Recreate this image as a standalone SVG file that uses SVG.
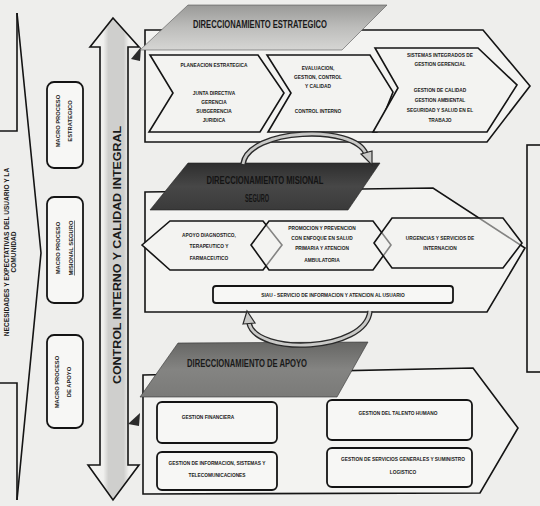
<svg xmlns="http://www.w3.org/2000/svg" width="540" height="506" viewBox="0 0 540 506">
<defs>
<style>
.ln{fill:none;stroke:#141414;stroke-width:1.6;stroke-linejoin:miter}
.fr{fill:#f3f3f1;stroke:#141414;stroke-width:1.6;stroke-linejoin:miter}
.bx{fill:#f7f7f5;stroke:#141414;stroke-width:1.8}
.t{font-family:"Liberation Sans",Arial,sans-serif;font-weight:bold;font-size:4.8px;fill:#1a1a1a;text-anchor:middle}
.h{font-family:"Liberation Sans",Arial,sans-serif;font-weight:bold;font-size:10px;fill:#1a1a1a;text-anchor:middle}
.v{font-family:"Liberation Sans",Arial,sans-serif;font-weight:bold;text-anchor:middle;fill:#1a1a1a}
.arcO{fill:none;stroke:#2a2a2a;stroke-width:5.5;stroke-linecap:butt}
.arcI{fill:none;stroke:#c9c9c7;stroke-width:2.8;stroke-linecap:butt}
</style>
<linearGradient id="g1" x1="0" y1="0" x2="0" y2="1">
<stop offset="0" stop-color="#9a9a98"/><stop offset="0.5" stop-color="#bdbdbb"/><stop offset="1" stop-color="#d6d6d4"/>
</linearGradient>
<linearGradient id="g2" x1="0" y1="0" x2="0" y2="1">
<stop offset="0" stop-color="#2e2e2e"/><stop offset="0.5" stop-color="#474747"/><stop offset="1" stop-color="#3a3a3a"/>
</linearGradient>
<linearGradient id="g3" x1="0" y1="0" x2="0" y2="1">
<stop offset="0" stop-color="#666664"/><stop offset="0.5" stop-color="#848482"/><stop offset="1" stop-color="#7a7a78"/>
</linearGradient>
<linearGradient id="gs" x1="0" y1="0" x2="1" y2="0">
<stop offset="0" stop-color="#f4f4f2"/><stop offset="0.3" stop-color="#f0f0ee"/><stop offset="0.4" stop-color="#cfcfcd"/><stop offset="0.7" stop-color="#cfcfcd"/><stop offset="0.8" stop-color="#f0f0ee"/><stop offset="1" stop-color="#f4f4f2"/>
</linearGradient>
</defs>
<rect x="0" y="0" width="540" height="506" fill="#eeeeec"/>

<g id="necesidades">
<polyline class="ln" points="17,13 41,253 17,500"/>
<polyline class="ln" points="17,13 17,131 0,131"/>
<polyline class="ln" points="0,383 17,383 17,500"/>
<text class="v" font-size="6.6" transform="translate(8.5,252) rotate(-90)">NECESIDADES Y EXPECTATIVAS DEL USUARIO Y LA</text>
<text class="v" font-size="6.6" transform="translate(16,252) rotate(-90)">COMUNIDAD</text>
</g>

<g id="macro-estrategico">
<rect class="bx" x="47" y="82" width="36" height="86" rx="7"/>
<text class="v" font-size="5.8" transform="translate(60.2,121) rotate(-90)">MACRO PROCESO</text>
<text class="v" font-size="5.8" transform="translate(72.2,121) rotate(-90)">ESTRATEGICO</text>
</g>
<g id="macro-misional">
<rect class="bx" x="47" y="197" width="36" height="106" rx="7"/>
<text class="v" font-size="5.8" transform="translate(60.2,248) rotate(-90)">MACRO PROCESO</text>
<text class="v" font-size="5.8" text-decoration="underline" transform="translate(73.2,248) rotate(-90)">MISIONAL SEGURO</text>
</g>
<g id="macro-apoyo">
<rect class="bx" x="47" y="335" width="36" height="93" rx="7"/>
<text class="v" font-size="5.8" transform="translate(59.2,382) rotate(-90)">MACRO PROCESO</text>
<text class="v" font-size="5.8" transform="translate(71.2,382) rotate(-90)">DE APOYO</text>
</g>

<g id="control-interno">
<polygon points="113,18 139,47 128,47 128,465 139,465 113,500 88,465 100,465 100,47 90,47" fill="url(#gs)" stroke="#141414" stroke-width="1.6" stroke-linejoin="miter"/>
<text class="v" font-size="10.5" textLength="258" lengthAdjust="spacingAndGlyphs" transform="translate(121,255) rotate(-90)">CONTROL INTERNO Y CALIDAD INTEGRAL</text>
<polygon points="131,59 141,47 140,61" fill="#2a2a2a"/>
<polygon points="128,424 140,413 139,426" fill="#2a2a2a"/>
</g>

<g id="frame-derecho">
<rect class="ln" x="527" y="145" width="20" height="227"/>
</g>

<g id="direccionamiento-estrategico">
<polygon class="fr" points="145,30 483,30 530,86 487,142 145,142"/>
<polygon points="188,5 387,5 342,50 140,50" fill="url(#g1)" stroke="#555" stroke-width="0.6"/>
<text class="h" x="260" y="27.5" textLength="134" lengthAdjust="spacingAndGlyphs">DIRECCIONAMIENTO ESTRATEGICO</text>
</g>
<g id="planeacion">
<polygon class="fr" points="150,55 258,55 284,93 260,132 149,132 173,93"/>
<text class="t" x="214" y="67">PLANEACION ESTRATEGICA</text>
<text class="t" x="214" y="95">JUNTA DIRECTIVA</text>
<text class="t" x="214" y="103.5">GERENCIA</text>
<text class="t" x="214" y="113.4">SUBGERENCIA</text>
<text class="t" x="214" y="121.7">JURIDICA</text>
</g>
<g id="evaluacion">
<polygon class="fr" points="267,55 370,55 393,92 377,132 268,132 291,93"/>
<text class="t" x="318" y="70">EVALUACION,</text>
<text class="t" x="318" y="79.4">GESTION, CONTROL</text>
<text class="t" x="318" y="88.4">Y CALIDAD</text>
<text class="t" x="318" y="113.4">CONTROL INTERNO</text>
</g>
<g id="sistemas-integrados">
<polygon class="fr" points="375,48 478,48 517,85 487,132 373,132 398,88"/>
<text class="t" x="440" y="56.7">SISTEMAS INTEGRADOS DE</text>
<text class="t" x="440" y="65.7">GESTION GERENCIAL</text>
<text class="t" x="440" y="91.7">GESTION DE CALIDAD</text>
<text class="t" x="440" y="101.7">GESTION AMBIENTAL</text>
<text class="t" x="440" y="111.7">SEGURIDAD Y SALUD EN EL</text>
<text class="t" x="440" y="121.7">TRABAJO</text>
</g>

<g id="direccionamiento-misional">
<polygon class="fr" points="145,192 433,188 525,248 487,312 145,312"/>
<polygon points="188,163 380,163 348,210 150,210" fill="url(#g2)" stroke="#222" stroke-width="0.6"/>
<text class="h" x="265" y="183.5" textLength="117" lengthAdjust="spacingAndGlyphs" fill="#151515" style="fill:#141414">DIRECCIONAMIENTO MISIONAL</text>
<text class="h" x="257" y="201.5" textLength="24" lengthAdjust="spacingAndGlyphs" style="fill:#141414">SEGURO</text>
</g>
<g id="apoyo-diagnostico">
<polygon class="fr" points="142,245 170,221 263,221 282,245 263,270 170,270"/>
<text class="t" x="209" y="236.7">APOYO DIAGNOSTICO,</text>
<text class="t" x="209" y="248.4">TERAPEUTICO Y</text>
<text class="t" x="209" y="260">FARMACEUTICO</text>
</g>
<g id="promocion-prevencion">
<polygon class="fr" points="251,245 269,221 373,221 391,245 373,270 269,270" fill-opacity="0.5"/>
<text class="t" x="322" y="230">PROMOCION Y PREVENCION</text>
<text class="t" x="322" y="240">CON ENFOQUE EN SALUD</text>
<text class="t" x="322" y="250">PRIMARIA Y ATENCION</text>
<text class="t" x="322" y="261.7">AMBULATORIA</text>
</g>
<g id="urgencias">
<polygon class="fr" points="374,243 392,218 503,218 522,243 503,268 392,268" fill-opacity="0.5"/>
<text class="t" x="440" y="240">URGENCIAS Y SERVICIOS DE</text>
<text class="t" x="440" y="250">INTERNACION</text>
</g>
<g id="siau">
<rect class="bx" x="213" y="286" width="240" height="17" rx="3"/>
<text class="t" x="333" y="297" font-size="4.4">SIAU - SERVICIO DE INFORMACION Y ATENCION AL USUARIO</text>
</g>

<g id="direccionamiento-apoyo">
<polygon class="fr" points="143,375 473,368 518,428 480,493 143,494"/>
<polygon points="178,343 368,342 337,397 140,397" fill="url(#g3)" stroke="#333" stroke-width="0.6"/>
<text class="h" x="247" y="366.5" textLength="120" lengthAdjust="spacingAndGlyphs">DIRECCIONAMIENTO DE APOYO</text>
</g>
<g id="gestion-financiera">
<rect class="bx" x="157" y="402" width="120" height="41" rx="5"/>
<text class="t" x="208" y="418.7">GESTION FINANCIERA</text>
</g>
<g id="gestion-talento-humano">
<rect class="bx" x="327" y="400" width="145" height="40" rx="5"/>
<text class="t" x="398" y="414.7">GESTION DEL TALENTO HUMANO</text>
</g>
<g id="gestion-informacion">
<rect class="bx" x="157" y="452" width="120" height="38" rx="5"/>
<text class="t" x="217" y="464.7">GESTION DE INFORMACION, SISTEMAS Y</text>
<text class="t" x="217" y="476.7">TELECOMUNICACIONES</text>
</g>
<g id="gestion-servicios-generales">
<rect class="bx" x="327" y="448" width="145" height="39" rx="5"/>
<text class="t" x="403" y="460.7">GESTION DE SERVICIOS GENERALES Y SUMINISTRO</text>
<text class="t" x="403" y="473.7">LOGISTICO</text>
</g>

<g id="conectores">
<path class="arcO" d="M243,164 C248,128 355,124 366,154"/>
<path class="arcI" d="M243,164 C248,128 355,124 366,154"/>
<polygon points="361,154 372,151 372,165" fill="#c9c9c7" stroke="#2a2a2a" stroke-width="1.2"/>
<path class="arcO" d="M370,311 C366,352 256,356 249,323"/>
<path class="arcI" d="M370,311 C366,352 256,356 249,323"/>
<polygon points="243,324 255,323 247,311" fill="#c9c9c7" stroke="#2a2a2a" stroke-width="1.2"/>
</g>
</svg>
